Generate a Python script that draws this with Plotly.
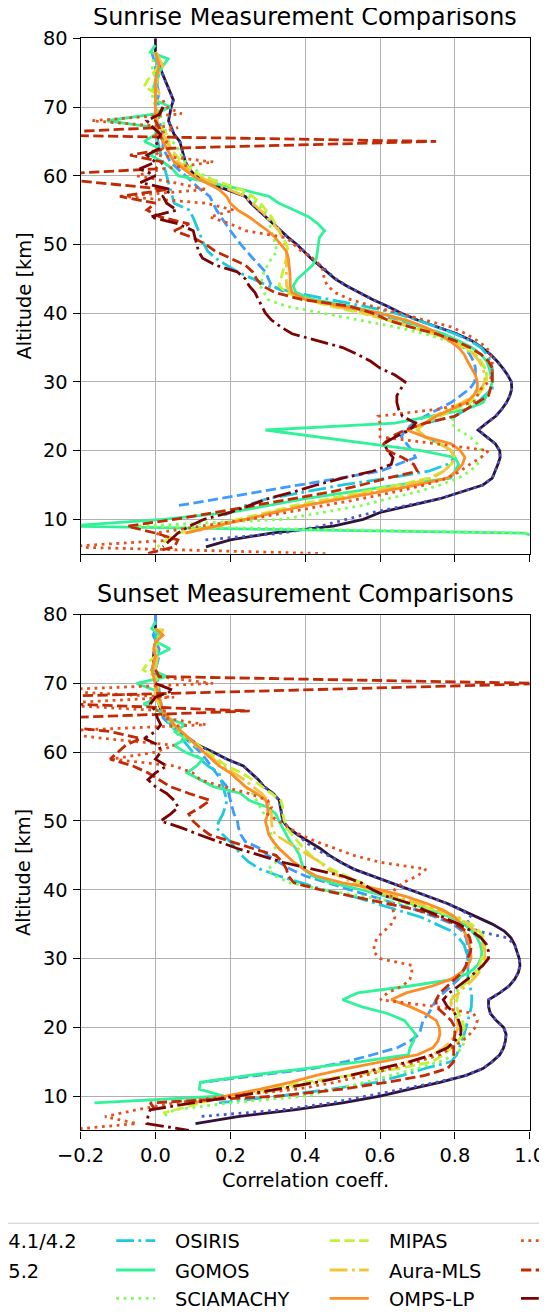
import plotly.graph_objects as go

W, H = 547, 1315
PAGE_OFFSET = 8  # the browser's default body margin; positions below are page pixels

# ---------------- data: (altitude [km], correlation coeff.) ----------------
NAMES = ["ACE-FTS v4.1/4.2", "ACE-FTS v5.2", "MAESTRO", "OSIRIS", "GOMOS", "SCIAMACHY",
         "MIPAS", "Aura-MLS", "OMPS-LP", "Instrument J", "Instrument K", "Instrument L"]

# ---- Sunrise ----
SR_ACE41 = [(80,0.0),(78,0.0),(76,0.01),(74,0.025),(72,0.04),(71,0.048),(70,0.042),(68,0.035),(66,0.05),(65,0.065),(64,0.07),(62,0.08),(61,0.09),(60,0.107),(59,0.14),(58,0.19),(57,0.24),(56,0.255),(55,0.275),(54,0.295),(53,0.315),(52,0.335),(51,0.355),(50,0.378),(49,0.397),(48,0.415),(47,0.437),(46,0.458),(45,0.48),(44,0.51),(43,0.545),(42,0.58),(41,0.62),(40,0.657),(39,0.70),(38,0.755),(37,0.805),(36,0.845),(35,0.872),(34,0.895),(33,0.913),(32,0.928),(31,0.941),(30,0.951),(29,0.952),(28,0.947),(27,0.938),(26,0.925),(25,0.909),(24,0.885),(23,0.862),(22,0.885),(21,0.908),(20,0.92),(19,0.921),(18,0.915),(17,0.908),(16,0.9),(15,0.875),(14,0.82),(13,0.76),(12,0.68),(11,0.6),(10,0.555),(9,0.475),(8,0.31),(7,0.2),(6,0.135)]
SR_ACE52 = [(78,0.0),(76,0.01),(74,0.025),(72,0.04),(71,0.048),(70,0.042),(68,0.035),(66,0.05),(65,0.065),(64,0.07),(62,0.08),(61,0.09),(60,0.107),(59,0.14),(58,0.19),(57,0.24),(56,0.255),(55,0.275),(54,0.295),(53,0.315),(52,0.335),(51,0.355),(50,0.378),(49,0.397),(48,0.418),(47,0.44),(46,0.46),(45,0.482),(44,0.51),(43,0.545),(42,0.58),(41,0.62),(40,0.657),(39,0.70),(38,0.755),(37,0.805),(36,0.845),(35,0.872),(34,0.895),(33,0.913),(32,0.928),(31,0.941),(30,0.951),(29,0.952),(28,0.947),(27,0.938),(26,0.925),(25,0.909),(24,0.885),(23,0.862),(22,0.885),(21,0.908),(20,0.92),(19,0.921),(18,0.915),(17,0.908),(16,0.9),(15,0.875),(14,0.82),(13,0.76),(12,0.67),(11,0.58),(10,0.51),(9,0.44),(8,0.34),(7,0.13)]
SR_MAESTRO = [(78,-0.01),(76,0.0),(74,0.0),(72,0.01),(70,0.0),(68,0.01),(66,0.02),(64,0.02),(62,0.04),(60,0.08),(58,0.12),(57,0.145),(55,0.163),(52,0.2),(50,0.228),(48,0.26),(46,0.294),(45,0.302),(44,0.31),(43,0.35),(42,0.42),(41,0.5),(40,0.58),(39,0.65),(38,0.71),(37,0.76),(36,0.8),(35,0.825),(34,0.84),(33,0.85),(32,0.855),(31,0.855),(30,0.853),(29,0.84),(28,0.815),(27,0.79),(26,0.755),(25,0.72),(24,0.69),(23,0.667),(22,0.657),(21,0.67),(20,0.685),(19,0.695),(18,0.65),(17,0.6),(12,0.061)]
SR_OSIRIS = [(78,0.0),(75,0.01),(72,0.0),(70,0.01),(67,0.0),(64,0.01),(62,0.02),(60,0.03),(58,0.04),(56,0.05),(55,0.09),(54,0.1),(52,0.115),(50,0.13),(49,0.14),(48,0.16),(47,0.19),(46,0.22),(45,0.26),(44,0.3),(43,0.37),(42,0.47),(41,0.56),(40,0.64),(39,0.7),(38,0.75),(37,0.8),(36,0.84),(35,0.87),(34,0.885),(33,0.895),(32,0.9),(31,0.9),(30,0.9),(29,0.9),(28,0.88),(27,0.86),(26,0.83),(25,0.8),(24,0.72),(23,0.7),(22,0.72),(21,0.76),(20,0.79),(19,0.8),(18,0.78),(17,0.73),(16,0.62),(15,0.5),(14,0.4),(13,0.3),(12,0.24),(11,0.2),(10.5,0.18)]
SR_GOMOS = [(79,0.0),(78,-0.014),(77,0.034),(76,0.02),(75,0.01),(74,0.006),(73,-0.005),(72,0.0),(71,0.0),(70,0.04),(69,0.0),(68,-0.13),(67,0.003),(66,0.0),(65,-0.03),(64,0.01),(63,-0.014),(62,0.02),(61,0.045),(60,0.061),(59,0.146),(58,0.23),(57,0.303),(56,0.33),(55,0.37),(54,0.41),(53,0.434),(52,0.452),(51,0.438),(50,0.435),(49,0.432),(48,0.43),(47,0.42),(46,0.4),(45,0.38),(44,0.368),(43,0.375),(42,0.42),(41,0.52),(40,0.6),(39,0.66),(38,0.71),(37,0.77),(36,0.81),(35,0.845),(34,0.87),(33,0.885),(32,0.892),(31,0.897),(30,0.9),(29,0.895),(28,0.885),(27,0.875),(26,0.83),(25,0.73),(24,0.64),(23,0.294),(22,0.43),(21,0.57),(20,0.71),(19,0.8),(18,0.81),(17,0.8),(16,0.788),(15,0.65),(14,0.52),(13,0.4),(12,0.3),(11,0.2),(10,0.02),(9,-0.24),(8,0.985),(7,1.05)]
SR_SCIAMACHY = [(78,0.0),(76,-0.01),(74,0.0),(72,-0.01),(70,0.0),(68,0.02),(66,0.03),(64,0.06),(62,0.08),(60,0.13),(58,0.22),(57,0.25),(56,0.27),(55,0.29),(54,0.3),(52,0.31),(50,0.32),(49,0.325),(48,0.31),(47,0.3),(46,0.29),(45,0.285),(44,0.28),(43,0.29),(42,0.3),(41,0.35),(40,0.45),(39,0.55),(38,0.64),(37,0.72),(36,0.78),(35,0.82),(34,0.85),(33,0.87),(32,0.88),(31,0.885),(30,0.88),(29,0.87),(28,0.86),(27,0.85),(26,0.83),(25,0.8),(24,0.79),(23,0.81),(22,0.84),(21,0.86),(20,0.87),(19,0.87),(18,0.86),(17,0.84),(16,0.81),(15,0.76),(14,0.7),(13,0.62),(12,0.55),(11,0.45),(10,0.34),(9,-0.05),(8,0.99),(7,1.05)]
SR_MIPAS = [(78,0.0),(76,0.01),(74,-0.02),(73,-0.03),(72,0.0),(70,0.0),(68,0.0),(66,0.03),(64,0.04),(62,0.07),(60,0.12),(58,0.23),(57,0.26),(56,0.28),(54,0.31),(52,0.33),(50,0.35),(49,0.355),(48,0.35),(47,0.345),(46,0.34),(45,0.335),(44,0.33),(43,0.35),(42,0.4),(41,0.47),(40,0.55),(39,0.62),(38,0.68),(37,0.74),(36,0.79),(35,0.83),(34,0.855),(33,0.87),(32,0.88),(31,0.885),(30,0.885),(29,0.875),(28,0.86),(27,0.84),(26,0.8),(25,0.76),(24,0.72),(23,0.7),(22,0.72),(21,0.76),(20,0.79),(19,0.8),(18,0.79),(17,0.77),(16,0.73),(15,0.65),(14,0.56),(13,0.46),(12,0.37),(11,0.3),(10,0.22),(9,0.15),(8,0.06),(7,0.03),(6,0.005)]
SR_AURAMLS = [(78,0.0),(77,0.01),(76,0.02),(75,0.01),(74,0.005),(73,0.0),(72,0.01),(70,0.0),(68,0.005),(66,0.02),(64,0.04),(62,0.06),(60,0.11),(58,0.2),(57,0.24),(56,0.26),(55,0.28),(54,0.3),(53,0.315),(52,0.33),(51,0.34),(50,0.345),(49,0.35),(47,0.35),(45,0.35),(44,0.35),(43,0.36),(42,0.41),(41,0.48),(40,0.56),(39,0.63),(38,0.69),(37,0.75),(36,0.795),(35,0.83),(34,0.85),(33,0.865),(32,0.875),(31,0.88),(30,0.88),(29,0.87),(28,0.85),(27,0.82),(26,0.78),(25,0.745),(24,0.72),(23,0.7),(22,0.72),(21,0.76),(20,0.79),(19,0.8),(18,0.79),(17,0.77),(16,0.74),(15,0.67),(14,0.58),(13,0.48),(12,0.39),(11,0.31),(10,0.24),(9,0.17),(8,0.08)]
SR_OMPS = [(78,0.0),(76,0.01),(74,0.0),(72,0.0),(70,0.0),(68,0.0),(66,0.01),(64,0.03),(62,0.05),(60,0.1),(58,0.17),(57,0.19),(56,0.2),(55,0.22),(54,0.25),(53,0.275),(52,0.3),(51,0.32),(50,0.335),(49,0.35),(48,0.355),(47,0.358),(46,0.359),(45,0.36),(44,0.36),(43,0.365),(42,0.4),(41,0.5),(40,0.6),(39,0.67),(38,0.72),(37,0.755),(36,0.785),(35,0.81),(34,0.825),(33,0.834),(32,0.845),(31,0.855),(30,0.86),(29,0.86),(28,0.85),(27,0.83),(26,0.79),(25,0.75),(24,0.72),(23,0.672),(22,0.72),(21,0.79),(20,0.815),(19,0.827),(18,0.82),(17,0.805),(16,0.78),(15,0.7),(14,0.6),(13,0.5),(12,0.4),(11,0.32),(10,0.24),(9,0.16),(8,0.08)]
SR_J = [(71,0.02),(70,0.03),(69,0.07),(68,-0.17),(67,0.06),(66,0.0),(65,0.03),(64,0.02),(63,0.0),(62,0.155),(61,0.02),(60,-0.05),(59,0.05),(58,0.137),(57,-0.09),(56,0.135),(55,0.21),(54,0.145),(53,0.2),(52,0.24),(51,0.35),(50,0.37),(49,0.39),(48,0.42),(47,0.44),(46,0.45),(45,0.45),(44,0.46),(43,0.48),(42,0.52),(41,0.58),(40,0.65),(39,0.72),(38,0.79),(37,0.83),(36,0.86),(35,0.885),(34,0.895),(33,0.9),(32,0.9),(31,0.9),(30,0.89),(29,0.87),(28,0.86),(27,0.85),(26,0.75),(25,0.595),(24,0.6),(23,0.6),(22,0.6),(21,0.75),(20,0.89),(19,0.87),(18,0.84),(17,0.814),(16,0.78),(15,0.72),(14,0.64),(13,0.55),(12,0.45),(11,0.35),(10,0.25),(9,0.12),(8,0.0),(7,0.05),(6,-0.25),(5,0.46)]
SR_K = [(70,0.02),(68,0.0),(67,0.01),(66,-0.4),(65,0.75),(64,0.04),(63,-0.068),(62,0.02),(61,0.0),(60,-0.35),(58,0.033),(57,-0.095),(56,0.0),(55,-0.023),(54,0.012),(53,0.09),(52,0.05),(51,0.1),(50,0.135),(49,0.16),(48,0.2),(47,0.24),(46,0.26),(45,0.27),(44,0.285),(43,0.32),(42,0.39),(41,0.52),(40,0.58),(39,0.62),(38,0.68),(37,0.75),(36,0.8),(35,0.84),(34,0.87),(33,0.89),(32,0.9),(31,0.9),(30,0.9),(29,0.895),(28,0.89),(27,0.86),(26,0.83),(25,0.8),(24,0.72),(23,0.667),(22,0.63),(21,0.61),(20,0.62),(19,0.66),(18,0.69),(17,0.7),(16,0.62),(15,0.55),(14,0.47),(13,0.37),(12,0.26),(11,0.16),(10,0.05),(9,-0.075),(8,0.0),(7,0.06),(6,0.051),(5,-0.023)]
SR_L = [(70,0.02),(69,0.012),(68,-0.023),(67,-0.006),(66,0.014),(65,0.0),(64,0.012),(63,-0.023),(62,0.0),(61,-0.042),(60,0.0),(59,-0.04),(58,0.042),(57,0.02),(56,0.03),(55,0.057),(54,-0.014),(53,0.06),(52,0.101),(51,0.105),(50,0.11),(49,0.115),(48,0.126),(47,0.16),(46,0.219),(45,0.24),(44,0.25),(43,0.266),(42,0.275),(41,0.285),(40,0.294),(39,0.31),(38,0.335),(37,0.365),(36,0.43),(35,0.5),(34,0.54),(33,0.575),(32,0.6),(31,0.64),(30,0.667),(29,0.655),(28,0.645),(27,0.645),(26,0.65),(25,0.66),(24,0.695),(23,0.68),(22,0.64),(21,0.611),(20,0.62),(19,0.635),(18,0.63),(17,0.58),(16,0.5),(15,0.43),(14,0.37),(13,0.3),(12,0.25),(11,0.2),(10,0.13),(9,0.09),(8,0.06),(7,0.04),(6,0.02)]

# ---- Sunset ----
SS_ACE41 = [(80,0.0),(78,0.0),(76,0.0),(74,-0.005),(72,-0.005),(70,0.0),(68,0.005),(66,0.015),(65,0.023),(64,0.045),(63,0.065),(62,0.09),(61,0.115),(60,0.155),(59,0.19),(58,0.235),(57,0.255),(56,0.275),(55,0.29),(54,0.315),(53,0.331),(52,0.335),(51,0.337),(50,0.34),(49,0.355),(48,0.38),(47,0.41),(46,0.44),(45,0.465),(44,0.495),(43,0.53),(42,0.58),(41,0.63),(40,0.68),(39,0.73),(38,0.78),(37,0.82),(36,0.86),(35,0.9),(34,0.932),(33,0.95),(32,0.96),(31,0.966),(30,0.972),(29,0.974),(28,0.97),(27,0.96),(26,0.945),(25,0.92),(24,0.89),(23,0.89),(22,0.895),(21,0.91),(20,0.93),(19,0.937),(18,0.935),(17,0.93),(16,0.92),(15,0.9),(14,0.875),(13,0.83),(12,0.76),(11,0.68),(10,0.6),(9,0.5),(8,0.37),(7,0.22),(6,0.107)]
SS_ACE52 = [(79,0.0),(78,0.0),(76,0.0),(74,-0.005),(72,-0.005),(70,0.0),(68,0.005),(66,0.015),(65,0.023),(64,0.045),(63,0.065),(62,0.09),(61,0.115),(60,0.155),(59,0.19),(58,0.235),(57,0.255),(56,0.275),(55,0.29),(54,0.315),(53,0.331),(52,0.335),(51,0.337),(50,0.34),(49,0.355),(48,0.38),(47,0.4),(46,0.425),(45,0.46),(44,0.495),(43,0.53),(42,0.58),(41,0.63),(40,0.68),(39,0.73),(38,0.78),(37,0.82),(36,0.845),(35,0.83),(34,0.86),(33,0.94),(32,0.96),(31,0.966),(30,0.972),(29,0.974),(28,0.97),(27,0.96),(26,0.945),(25,0.92),(24,0.89),(23,0.89),(22,0.895),(21,0.91),(20,0.93),(19,0.937),(18,0.935),(17,0.93),(16,0.92),(15,0.9),(14,0.875),(13,0.83),(12,0.75),(11,0.66),(10,0.57),(9,0.47),(8,0.34),(7,0.115)]
SS_MAESTRO = [(80,0.0),(78,0.0),(77,-0.006),(75,0.01),(73,0.0),(71,0.005),(69,0.01),(67,0.015),(65,0.02),(64,0.04),(63,0.06),(62,0.08),(61,0.1),(60,0.12),(59,0.135),(58,0.148),(57,0.163),(56,0.175),(55,0.191),(54,0.195),(53,0.2),(52,0.205),(51,0.21),(50,0.219),(49,0.222),(48,0.228),(47,0.24),(46,0.28),(45,0.3),(44,0.33),(43,0.36),(42,0.4),(41,0.46),(40,0.517),(39,0.58),(38,0.64),(37,0.7),(36,0.75),(35,0.795),(34,0.82),(33,0.83),(32,0.834),(31,0.834),(30,0.834),(29,0.83),(28,0.82),(27,0.81),(26,0.79),(25,0.77),(24,0.75),(23,0.74),(22,0.73),(21,0.715),(20,0.71),(19,0.705),(18,0.68),(17,0.645),(16,0.58),(15,0.51),(14,0.42),(13,0.28),(12,0.126)]
SS_OSIRIS = [(78,0.0),(76,0.0),(74,0.01),(72,0.0),(70,0.005),(68,0.01),(66,0.02),(64,0.04),(62,0.07),(60,0.1),(58,0.14),(57,0.17),(56,0.175),(55,0.18),(54,0.185),(53,0.191),(52,0.186),(51,0.18),(50,0.17),(49,0.163),(48,0.18),(47,0.2),(46,0.215),(45,0.23),(44,0.25),(43,0.28),(42,0.33),(41,0.39),(40,0.45),(39,0.53),(38,0.59),(37,0.65),(36,0.71),(35,0.75),(34,0.79),(33,0.81),(32,0.825),(31,0.83),(30,0.835),(29,0.835),(28,0.835),(27,0.835),(26,0.84),(25,0.845),(24,0.845),(23,0.844),(22,0.84),(21,0.834),(20,0.83),(19,0.825),(18,0.818),(17,0.812),(16,0.805),(15,0.79),(14,0.72),(13,0.66),(12,0.59),(11,0.47),(10,0.33),(9,0.17)]
SS_GOMOS = [(79,0.0),(78,-0.01),(77,0.01),(76,0.005),(75,0.039),(74,0.0),(73,0.005),(72,-0.01),(71,0.03),(70,-0.05),(69,0.0),(68,0.01),(67,-0.032),(66,0.01),(65,0.03),(64,0.08),(63,0.05),(62,0.084),(61,0.05),(60,0.08),(59,0.126),(58,0.11),(57,0.084),(56,0.12),(55,0.155),(54,0.228),(53,0.25),(52,0.3),(51,0.322),(50,0.33),(49,0.34),(48,0.35),(47,0.36),(46,0.375),(45,0.385),(44,0.39),(43,0.396),(42,0.42),(41,0.47),(40,0.55),(39,0.62),(38,0.68),(37,0.74),(36,0.79),(35,0.825),(34,0.845),(33,0.86),(32,0.868),(31,0.872),(30,0.87),(29,0.86),(28,0.84),(27,0.8),(26,0.68),(25,0.54),(24,0.5),(23,0.55),(22,0.62),(21,0.665),(20,0.68),(19,0.695),(18,0.69),(17,0.68),(16,0.676),(15,0.55),(14,0.4),(13,0.25),(12,0.12),(11,0.117),(10,0.182),(9,-0.163)]
SS_SCIAMACHY = [(78,0.0),(76,0.01),(74,0.0),(72,-0.01),(70,0.0),(68,0.01),(66,0.02),(64,0.04),(62,0.08),(60,0.13),(58,0.18),(56,0.22),(55,0.24),(54,0.26),(53,0.27),(52,0.28),(51,0.29),(50,0.295),(49,0.3),(48,0.31),(47,0.315),(46,0.32),(45,0.32),(44,0.322),(43,0.3),(42,0.32),(41,0.36),(40,0.45),(39,0.56),(38,0.66),(37,0.74),(36,0.8),(35,0.835),(34,0.855),(33,0.87),(32,0.875),(31,0.88),(30,0.881),(29,0.875),(28,0.86),(27,0.84),(26,0.82),(25,0.8),(24,0.79),(23,0.79),(22,0.8),(21,0.81),(20,0.82),(19,0.825),(18,0.825),(17,0.82),(16,0.8),(15,0.76),(14,0.7),(13,0.63),(12,0.56),(11,0.48),(10,0.4),(9,0.2),(8,0.05),(7,0.02)]
SS_MIPAS = [(78,0.01),(77,0.02),(76,0.0),(74,0.0),(73,-0.02),(72,-0.033),(71,0.0),(70,0.01),(68,0.0),(66,0.02),(64,0.05),(62,0.09),(60,0.14),(59,0.165),(58,0.19),(57,0.23),(56,0.26),(55,0.285),(54,0.31),(53,0.335),(52,0.34),(51,0.34),(50,0.345),(49,0.35),(48,0.365),(47,0.38),(46,0.396),(45,0.415),(44,0.44),(43,0.47),(42,0.51),(41,0.55),(40,0.59),(39,0.63),(38,0.69),(37,0.75),(36,0.8),(35,0.844),(34,0.865),(33,0.878),(32,0.881),(31,0.878),(30,0.872),(29,0.865),(28,0.855),(27,0.84),(26,0.82),(25,0.81),(24,0.805),(23,0.805),(22,0.81),(21,0.82),(20,0.825),(19,0.82),(18,0.81),(17,0.79),(16,0.77),(15,0.74),(14,0.65),(13,0.52),(12,0.4),(11,0.3),(10,0.2),(9,0.12),(8,0.05),(7.5,0.02)]
SS_AURAMLS = [(78,0.02),(77,0.015),(76,0.0),(74,0.005),(72,0.0),(70,0.0),(68,0.0),(66,0.02),(64,0.05),(62,0.09),(60,0.13),(58,0.18),(57,0.21),(56,0.238),(55,0.26),(54,0.284),(53,0.3),(52,0.305),(51,0.31),(50,0.31),(49,0.312),(48,0.32),(47,0.35),(46,0.38),(45,0.41),(44,0.44),(43,0.46),(42,0.49),(41,0.53),(40,0.57),(39,0.64),(38,0.705),(37,0.76),(36,0.81),(35,0.835),(34,0.855),(33,0.868),(32,0.875),(31,0.88),(30,0.88),(29,0.875),(28,0.865),(27,0.85),(26,0.83),(25,0.81),(24,0.79),(23,0.79),(22,0.8),(21,0.806),(20,0.81),(19,0.8),(18,0.79),(17,0.77),(16,0.74),(15,0.68),(14,0.6),(13,0.52),(12,0.43),(11,0.34),(10,0.22)]
SS_OMPS = [(78,0.0),(77,0.02),(76,0.0),(75,-0.005),(74,0.0),(72,-0.01),(70,0.0),(68,0.01),(66,0.02),(64,0.05),(62,0.09),(60,0.13),(58,0.17),(57,0.2),(56,0.22),(55,0.24),(54,0.27),(53,0.295),(52,0.3),(51,0.3),(50,0.294),(49,0.298),(48,0.303),(47,0.315),(46,0.33),(45,0.35),(44,0.37),(43,0.396),(42,0.43),(41,0.5),(40,0.6),(39,0.67),(38,0.725),(37,0.77),(36,0.8),(35,0.816),(34,0.825),(33,0.833),(32,0.838),(31,0.842),(30,0.843),(29,0.835),(28,0.818),(27,0.79),(26,0.74),(25,0.67),(24,0.63),(23,0.68),(22,0.72),(21,0.75),(20,0.758),(19,0.76),(18,0.755),(17,0.741),(16,0.7),(15,0.6),(14,0.51),(13,0.43),(12,0.36),(11,0.28),(10,0.19),(9,0.1)]
SS_J = [(71,0.01),(70,0.154),(69,-0.3),(68,0.05),(67,-0.3),(66,0.03),(65,0.02),(64,0.135),(63,-0.3),(62,-0.135),(61,0.05),(60,0.0),(59,-0.117),(58,0.05),(57,0.1),(56,0.12),(55,0.18),(54,0.25),(53,0.3),(52,0.31),(51,0.3),(50,0.33),(49,0.36),(48,0.387),(47,0.43),(46,0.48),(45,0.53),(44,0.6),(43,0.723),(42,0.7),(41,0.66),(40,0.639),(39,0.629),(38,0.63),(37,0.635),(36,0.64),(35,0.63),(34,0.611),(33,0.592),(32,0.585),(31,0.583),(30,0.6),(29,0.685),(28,0.685),(27,0.68),(26,0.66),(25,0.62),(24,0.601),(23,0.75),(22,0.85),(21,0.86),(20,0.855),(19,0.84),(18,0.82),(17,0.79),(16,0.76),(15,0.7),(14,0.63),(13,0.56),(12,0.48),(11,0.38),(10,0.2),(9,0.05),(8,-0.05),(7,-0.135),(6,-0.05),(5,-0.25)]
SS_K = [(72,0.0),(71,0.01),(70,1.05),(68,-0.35),(67,-0.22),(66,0.252),(65,-0.25),(64,-0.3),(63,-0.12),(62,-0.04),(61,-0.08),(60,-0.1),(59,-0.121),(58,-0.06),(57,-0.02),(56,0.01),(55,0.039),(54,0.09),(53,0.146),(52,0.12),(51,0.089),(50,0.1),(49,0.12),(48,0.145),(47,0.2),(46,0.26),(45,0.322),(44,0.34),(43,0.35),(42,0.355),(41,0.37),(40,0.44),(39,0.53),(38,0.62),(37,0.704),(36,0.76),(35,0.8),(34,0.83),(33,0.84),(32,0.844),(31,0.842),(30,0.834),(29,0.83),(28,0.82),(27,0.8),(26,0.78),(25,0.76),(24,0.75),(23,0.75),(22,0.77),(21,0.79),(20,0.8),(19,0.8),(18,0.797),(17,0.797),(16,0.797),(15,0.797),(14,0.78),(13,0.72),(12,0.62),(11,0.5),(10,0.33),(9,-0.014),(8,0.0)]
SS_L = [(70,0.0),(69,0.048),(68,0.0),(67,-0.014),(66,0.0),(65,0.005),(64,0.014),(63,0.0),(62,-0.03),(61,0.01),(60,0.014),(59,0.0),(58,0.03),(57,0.0),(56,-0.02),(55,0.0),(54,0.03),(53,0.05),(52,0.061),(51,0.04),(50,0.014),(49,0.07),(48,0.117),(47,0.17),(46,0.219),(45,0.28),(44,0.34),(43,0.42),(42,0.5),(41,0.55),(40,0.58),(39,0.62),(38,0.68),(37,0.72),(36,0.77),(35,0.81),(34,0.844),(33,0.87),(32,0.885),(31,0.89),(30,0.89),(29,0.875),(28,0.855),(27,0.834),(26,0.81),(25,0.785),(24,0.769),(23,0.78),(22,0.8),(21,0.81),(20,0.816),(19,0.816),(18,0.8),(17,0.78),(16,0.74),(15,0.68),(14,0.6),(13,0.52),(12,0.43),(11,0.33),(10,0.22),(9,0.1),(8,-0.014),(7,-0.02),(6,-0.023),(5,0.089)]

SUNRISE = [SR_ACE41, SR_ACE52, SR_MAESTRO, SR_OSIRIS, SR_GOMOS, SR_SCIAMACHY,
           SR_MIPAS, SR_AURAMLS, SR_OMPS, SR_J, SR_K, SR_L]
SUNSET = [SS_ACE41, SS_ACE52, SS_MAESTRO, SS_OSIRIS, SS_GOMOS, SS_SCIAMACHY,
          SS_MIPAS, SS_AURAMLS, SS_OMPS, SS_J, SS_K, SS_L]

X_TICKS = [-0.2, 0.0, 0.2, 0.4, 0.6, 0.8, 1.0]
Y_TICKS = [10, 20, 30, 40, 50, 60, 70, 80]

# ---------------- styles ----------------
COLORS = ["#30123b", "#455bcd", "#3d9cfe", "#1fc9dd", "#31f299", "#7efe55",
          "#c3f134", "#f3c63a", "#fd8d27", "#e6501a", "#c12a04", "#7a0403"]
LW = 2.8
DASHES = ["solid", "2.8px,4.6px", "10.3px,4.4px", "17.8px,4.4px,2.8px,4.4px"]
FONT = "DejaVu Sans"
FS = 19.4

def xp(px):
    return (px - PAGE_OFFSET) / W

def yp(py):
    return 1 - (py - PAGE_OFFSET) / H

X_DOM = [xp(80.6), xp(529.7)]
TOP_DOM = [yp(553.7), yp(38.3)]
BOT_DOM = [yp(1130.4), yp(614.7)]

fig = go.Figure()
for data, xa, ya in [(SUNRISE, "x", "y"), (SUNSET, "x2", "y2")]:
    for i, prof in enumerate(data):
        fig.add_trace(go.Scatter(
            x=[v for _, v in prof], y=[a for a, _ in prof],
            mode="lines", xaxis=xa, yaxis=ya, showlegend=False, name=NAMES[i],
            line=dict(color=COLORS[i], width=LW, dash=DASHES[i % 4]),
        ))

axis_common = dict(
    automargin=False,
    showgrid=True, gridcolor="#b0b0b0", gridwidth=1.1, zeroline=False,
    showline=True, linecolor="black", linewidth=1.2, mirror=True,
    ticks="outside", ticklen=7, tickwidth=1.2, tickcolor="black",
    tickfont=dict(family=FONT, size=FS, color="black"),
)
fig.update_layout(
    template="none",
    width=W, height=H, margin=dict(l=0, r=0, t=0, b=0, pad=0, autoexpand=False),
    paper_bgcolor="white", plot_bgcolor="white", showlegend=False,
    font=dict(family=FONT, size=FS, color="black"),
    xaxis=dict(domain=X_DOM, range=[-0.2, 1.0], tickvals=X_TICKS, showticklabels=False,
               anchor="y", **axis_common),
    yaxis=dict(domain=TOP_DOM, range=[5, 80], tickvals=Y_TICKS, anchor="x",
               ticklabelstandoff=1, **axis_common),
    xaxis2=dict(domain=X_DOM, range=[-0.2, 1.0], tickvals=X_TICKS, tickformat=".1f",
                anchor="y2", ticklabelstandoff=0, **axis_common),
    yaxis2=dict(domain=BOT_DOM, range=[5, 80], tickvals=Y_TICKS, anchor="x2",
                ticklabelstandoff=1, **axis_common),
)

ann = []
cx = (80.6 + 529.7) / 2
ann.append(dict(text="Sunrise Measurement Comparisons", x=xp(cx), y=yp(17.5)))
ann.append(dict(text="Sunset Measurement Comparisons", x=xp(cx), y=yp(594)))
for a in ann:
    a.update(xref="paper", yref="paper", showarrow=False, xanchor="center", yanchor="middle",
             font=dict(family=FONT, size=23.9, color="black"))
for yc in [(38.3 + 553.7) / 2, (614.7 + 1130.4) / 2]:
    ann.append(dict(text="Altitude [km]", x=xp(23.5), y=yp(yc), xref="paper", yref="paper",
                    showarrow=False, textangle=-90, xanchor="center", yanchor="middle",
                    font=dict(family=FONT, size=FS, color="black")))
ann.append(dict(text="Correlation coeff.", x=xp(cx), y=yp(1180), xref="paper", yref="paper",
                showarrow=False, xanchor="center", yanchor="middle",
                font=dict(family=FONT, size=FS, color="black")))

# ---------------- legend (clipped at figure edges, as in the reference) ----------------
shapes = [dict(type="rect", xref="paper", yref="paper", x0=xp(-20), x1=xp(W + 40),
               y0=yp(H + 40), y1=yp(1223.3), line=dict(color="#cccccc", width=1.1),
               fillcolor="rgba(255,255,255,0.8)", layer="above")]
COL_SAMPLE_X = [-146.6, 116.2, 329.7, 521.0]
COL_LABEL_X = [-92.3, 172.7, 386.6, 600.0]
ROW_Y = [1240.7, 1270.0, 1298.3]
for i in range(12):
    c, r = divmod(i, 3)
    y = ROW_Y[r]
    shapes.append(dict(type="line", xref="paper", yref="paper",
                       x0=xp(COL_SAMPLE_X[c]), x1=xp(COL_SAMPLE_X[c] + 39),
                       y0=yp(y), y1=yp(y), layer="above",
                       line=dict(color=COLORS[i], width=LW, dash=DASHES[i % 4])))
    if c < 3:
        ann.append(dict(text=NAMES[i], x=xp(COL_LABEL_X[c]), y=yp(y + 1), xref="paper",
                        yref="paper", showarrow=False, xanchor="left", yanchor="middle",
                        font=dict(family=FONT, size=FS, color="black")))

fig.update_layout(annotations=ann, shapes=shapes)
fig.write_html("out.html")
